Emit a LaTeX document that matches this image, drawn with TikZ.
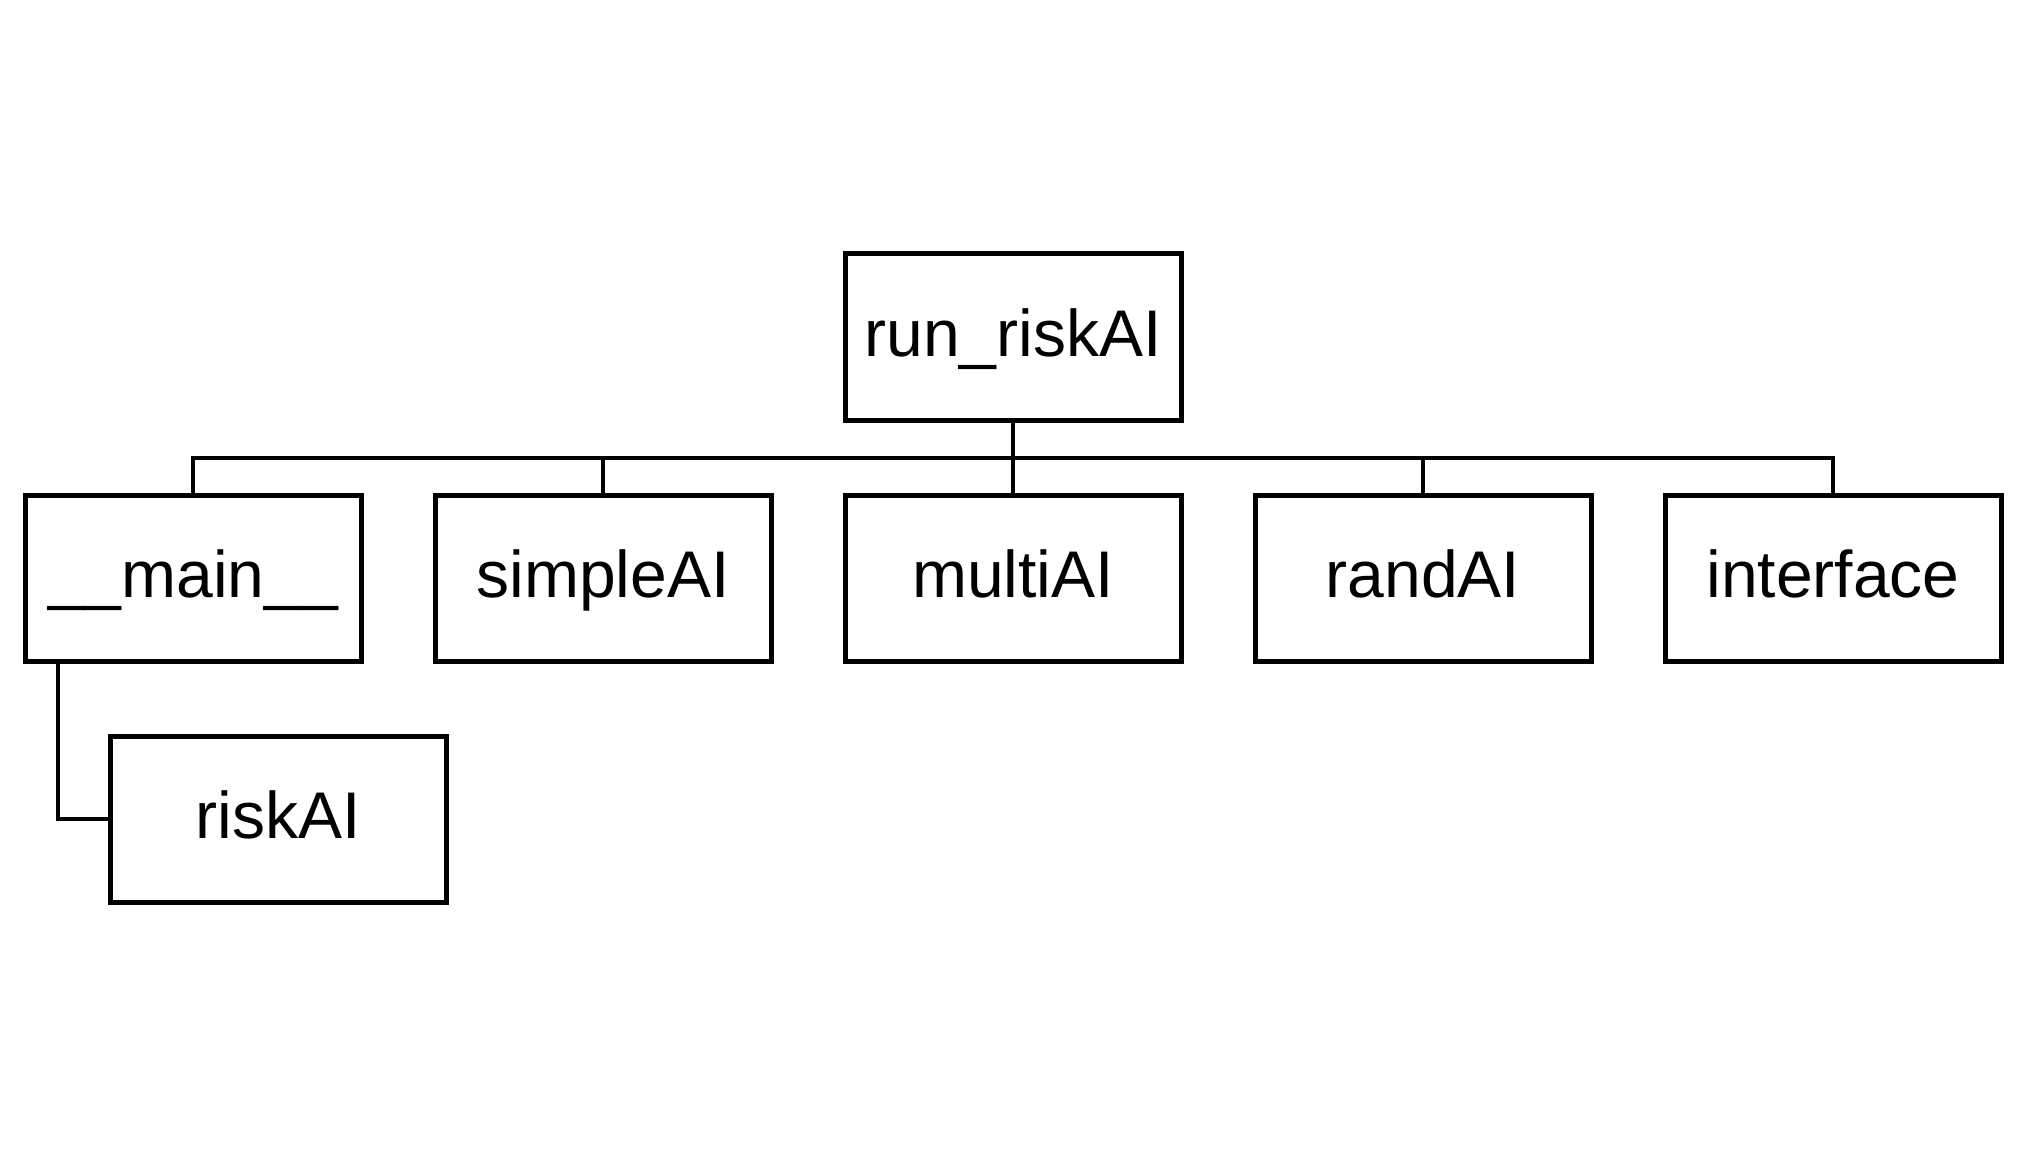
\documentclass[tikz,border=0pt]{standalone}
\usepackage{fontspec}
\setmainfont{Liberation Sans}
\begin{document}
\begin{tikzpicture}[x=0.5pt,y=-0.5pt,
  modbox/.style={draw=black, line width=2.5pt, fill=white, inner sep=0pt, outer sep=0pt,
    minimum width=168pt, minimum height=83pt, text height=24pt, text depth=5pt,
    font=\fontsize{33}{40}\selectfont},
  conn/.style={draw=black, line width=2.2pt}]
\useasboundingbox (0,0) rectangle (2018,1155);
\node[modbox] (top) at (1013,337) {run\_riskAI};
\node[modbox] (main) at (193,578) {\_\_main\_\_};
\node[modbox] (simple) at (603,578) {simpleAI};
\node[modbox] (multi) at (1013,578) {multiAI};
\node[modbox] (rand) at (1423,578) {randAI};
\node[modbox] (iface) at (1833,578) {interface};
\node[modbox] (risk) at (278,819) {riskAI};
\coordinate (bus) at (0,458);
\draw[conn] (top.south) -- (top.south |- bus);
\draw[conn] (main.north) -- (main.north |- bus) -- (iface.north |- bus) -- (iface.north);
\draw[conn] (simple.north) -- (simple.north |- bus);
\draw[conn] (multi.north) -- (multi.north |- bus);
\draw[conn] (rand.north) -- (rand.north |- bus);
\draw[conn] ([xshift=16.5pt]main.south west) |- (risk.west);
\end{tikzpicture}
\end{document}
